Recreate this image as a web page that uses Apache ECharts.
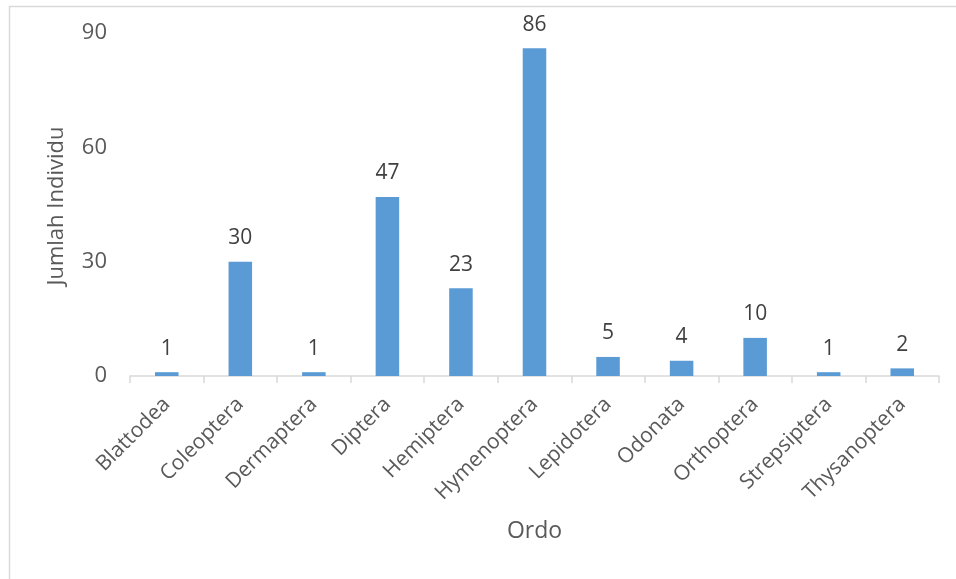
<!DOCTYPE html>
<html><head><meta charset="utf-8">
<script src="https://cdn.jsdelivr.net/npm/echarts@6/dist/echarts.min.js"></script>
<style>html,body{margin:0;padding:0;background:#fff}#c{width:956px;height:579px}</style>
</head><body><div id="c"></div>
<script>
const categories = ['Blattodea','Coleoptera','Dermaptera','Diptera','Hemiptera','Hymenoptera','Lepidotera','Odonata','Orthoptera','Strepsiptera','Thysanoptera'];
const values = [1,30,1,47,23,86,5,4,10,1,2];
const yTicks = [0,30,60,90];
const yTitle = 'Jumlah Individu';
const xTitle = 'Ordo';
const font = 'Open Sans, Liberation Sans, sans-serif';
const chart = echarts.init(document.getElementById('c'), null, {renderer:'canvas'});
chart.setOption({
  animation:false,
  graphic:[{type:'rect',shape:{x:9.5,y:6.5,width:1000,height:1000},style:{fill:'none',stroke:'#d9d9d9',lineWidth:1.5}},
    {type:'text',x:57,y:206,rotation:Math.PI/2,
     style:{text:yTitle,fill:'#595959',font:'22px Open Sans, Liberation Sans, sans-serif',align:'center',verticalAlign:'middle'}}],
  grid:{left:130,right:17,top:33,bottom:203},
  xAxis:{type:'category',data:categories,
    axisLine:{lineStyle:{color:'#d9d9d9',width:1.5}},
    axisTick:{show:true,length:7,lineStyle:{color:'#d9d9d9',width:1.5}},
    axisLabel:{rotate:45,color:'#595959',fontSize:21,fontFamily:font,margin:25,interval:0},
    name:xTitle,nameLocation:'middle',nameGap:144,
    nameTextStyle:{color:'#595959',fontSize:23,fontFamily:font}},
  yAxis:{type:'value',min:yTicks[0],max:yTicks[yTicks.length-1],interval:30,
    axisLine:{show:false},axisTick:{show:false},splitLine:{show:false},
    axisLabel:{color:'#595959',fontSize:22,fontFamily:font,margin:23}},
  series:[{type:'bar',data:values,barWidth:'32%',
    itemStyle:{color:'#5b9bd5'},
    label:{show:true,position:'top',distance:13,color:'#404040',fontSize:21,fontFamily:font}}]
});
</script></body></html>
